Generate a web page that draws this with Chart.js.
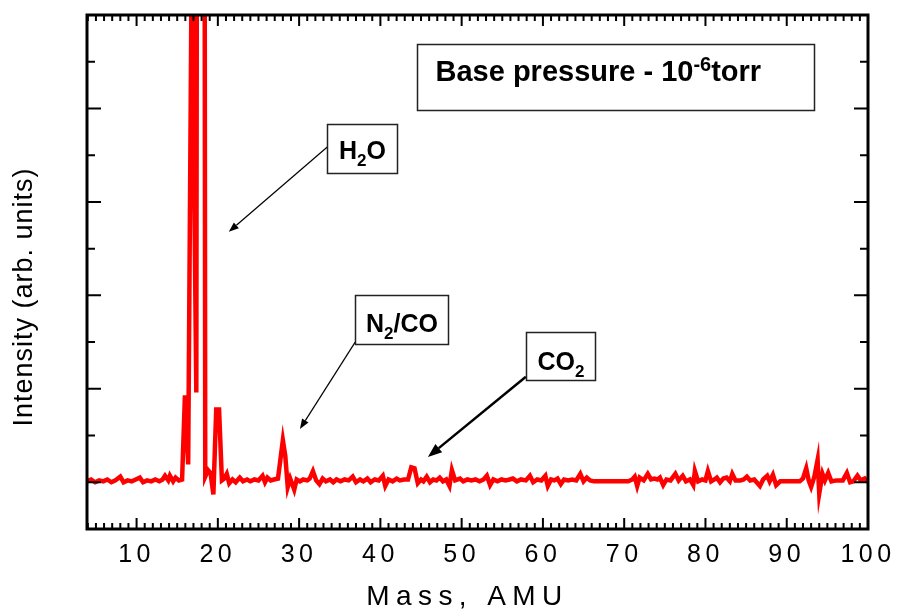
<!DOCTYPE html>
<html>
<head>
<meta charset="utf-8">
<title>Residual gas spectrum</title>
<script src="https://cdn.jsdelivr.net/npm/chart.js@4.4.1/dist/chart.umd.min.js"></script>
<style>
  html, body { margin: 0; padding: 0; background: #fff; }
  #spectrum { display: block; }
</style>
</head>
<body>
<canvas id="spectrum" width="900" height="613"></canvas>
<script>
//----------------------------Spectrum data (mass in AMU, intensity in arb. units)
var massAmu = [
  3.9, 4.4, 4.9, 5.4, 5.9, 6.4, 6.9, 7.4, 8.0, 8.4, 8.9, 9.4, 9.9, 10.4, 10.8, 11.3, 11.8, 12.3, 12.8, 13.2,
  13.5, 13.9, 14.1, 14.5, 14.8, 15.2, 15.6, 15.95, 16.35, 16.8, 17.35, 17.45, 18.35, 18.45, 18.8, 19.1, 19.45, 19.8, 20.15, 20.5,
  20.8, 21.1, 21.4, 21.8, 22.2, 22.7, 23.1, 23.6, 24.0, 24.5, 25.0, 25.5, 25.8, 26.1, 26.5, 26.9, 27.4, 28.0, 28.3, 28.6,
  28.9, 29.4, 29.7, 30.1, 30.5, 31.0, 31.3, 31.7, 32.1, 32.5, 32.9, 33.3, 33.8, 34.2, 34.6, 35.1, 35.6, 36.1, 36.6, 37.0,
  37.5, 37.9, 38.4, 38.8, 39.3, 39.8, 40.3, 40.6, 41.0, 41.5, 42.0, 42.4, 42.9, 43.4, 43.8, 44.2, 44.6, 45.0, 45.3, 45.7,
  46.1, 46.5, 46.9, 47.3, 47.7, 48.1, 48.5, 48.8, 49.2, 49.8, 50.2, 50.7, 51.2, 51.7, 52.2, 52.7, 53.1, 53.5, 53.9, 54.4,
  54.9, 55.4, 55.9, 56.3, 56.8, 57.3, 57.9, 58.4, 58.8, 59.3, 59.8, 60.3, 60.6, 61.0, 61.4, 61.8, 62.2, 62.6, 63.1, 63.6,
  64.1, 64.6, 65.0, 65.4, 65.8, 66.3, 66.7, 67.5, 68.5, 69.5, 70.5, 71.0, 71.3, 71.6, 71.9, 72.4, 72.9, 73.3, 73.7, 74.1,
  74.4, 74.8, 75.2, 75.7, 76.3, 76.7, 77.2, 77.6, 78.1, 78.5, 78.7, 79.1, 79.6, 80.0, 80.3, 80.7, 81.1, 81.4, 81.8, 82.2,
  82.6, 83.0, 83.3, 83.7, 84.3, 84.7, 85.1, 85.5, 86.0, 86.7, 87.1, 87.6, 87.9, 88.3, 88.7, 89.2, 90.0, 91.0, 91.6, 92.0,
  92.4, 92.7, 93.0, 93.4, 93.8, 94.0, 94.4, 94.7, 95.1, 95.5, 96.1, 96.9, 97.4, 97.8, 98.2, 98.7, 99.1, 99.6, 100.0
];
var intensity = [
  0.01, 0.03, 0.00, 0.02, 0.01, 0.03, 0.00, 0.02, 0.06, 0.00, 0.02, 0.01, 0.03, 0.05, 0.00, 0.02, 0.01, 0.03, 0.01, 0.03,
  0.07, 0.02, 0.07, 0.01, 0.05, 0.02, 0.03, 0.93, 0.19, 5.8, 0.96, 8.0, 8.0, 0.06, 0.13, 0.10, -0.13, 0.78, 0.78, 0.02,
  0.04, 0.09, -0.01, 0.03, 0.00, 0.05, 0.01, 0.03, 0.01, 0.03, 0.02, 0.07, 0.00, 0.05, 0.02, 0.03, 0.04, 0.45, 0.28, -0.05,
  0.04, -0.08, 0.03, 0.01, 0.03, 0.02, 0.04, 0.12, 0.02, -0.02, 0.04, 0.01, 0.03, 0.00, 0.03, 0.01, 0.03, 0.02, 0.06, 0.00,
  0.03, 0.01, 0.04, 0.00, 0.03, 0.02, 0.07, -0.04, 0.03, 0.01, 0.04, 0.02, 0.03, 0.03, 0.16, 0.15, -0.01, 0.03, 0.01, 0.06,
  0.00, 0.03, 0.02, 0.05, 0.01, 0.03, -0.04, 0.13, 0.02, 0.04, 0.01, 0.03, 0.02, 0.03, 0.01, 0.03, 0.07, -0.03, 0.03, 0.01,
  0.03, 0.02, 0.03, 0.04, 0.01, 0.03, 0.02, 0.07, 0.00, 0.03, 0.02, 0.07, -0.04, 0.03, 0.02, 0.04, -0.02, 0.03, 0.02, 0.03,
  0.02, 0.09, 0.01, 0.05, 0.02, 0.01, 0.01, 0.01, 0.01, 0.01, 0.01, 0.03, 0.06, -0.04, 0.05, 0.02, 0.09, 0.03, 0.04, 0.03,
  0.05, -0.03, 0.03, 0.02, 0.09, 0.02, 0.07, 0.01, 0.03, -0.03, 0.12, 0.01, 0.03, 0.02, 0.12, 0.01, 0.03, 0.05, 0.00, 0.04,
  0.05, 0.01, 0.09, 0.02, 0.02, 0.03, 0.06, 0.02, 0.03, -0.04, 0.03, 0.07, 0.01, 0.08, -0.03, 0.01, 0.01, 0.01, 0.01, 0.04,
  0.15, 0.02, -0.05, 0.06, 0.24, -0.12, 0.09, 0.02, 0.10, 0.01, 0.02, 0.02, 0.10, 0.00, 0.01, 0.07, 0.02, 0.04, 0.00
];
var xTickValues = [10, 20, 30, 40, 50, 60, 70, 80, 90, 100];
var xRange = [3.9, 100];
var yRange = [-0.5, 5];

//----------------------------Peak labels (anchored in data units)
var noteBoxes = [
  { text: [{ s: 'Base pressure - 10' }, { s: '-6', sup: true }, { s: 'torr' }],
    at: [44.5, 4.69], w: 397, h: 66, size: 29, base: 36, padLeft: 18 },
  { text: [{ s: 'H' }, { s: '2', sub: true }, { s: 'O' }],
    at: [33.4, 3.83], w: 70, h: 49, size: 25, base: 34,
    arrow: { from: [33.5, 3.59], to: [21.35, 2.68], width: 1.2, head: 10 } },
  { text: [{ s: 'N' }, { s: '2', sub: true }, { s: '/CO' }],
    at: [36.9, 2.0], w: 93, h: 49, size: 25, base: 36,
    arrow: { from: [36.9, 1.5], to: [30.1, 0.57], width: 1.2, head: 10 } },
  { text: [{ s: 'CO' }, { s: '2', sub: true }],
    at: [57.9, 1.61], w: 69, h: 48, size: 25, base: 37,
    arrow: { from: [57.9, 1.13], to: [45.85, 0.27], width: 2.5, head: 14 } }
];

var points = massAmu.map(function (m, i) { return { x: m, y: intensity[i] }; });

function partFont(part, size) {
  var s = (part.sub || part.sup) ? Math.round(size * 0.68) : size;
  return 'bold ' + s + 'px "Liberation Sans", Arial, sans-serif';
}

function drawRichText(ctx, parts, x, y, size) {
  parts.forEach(function (p) {
    ctx.font = partFont(p, size);
    var dy = p.sub ? 7 : (p.sup ? -10 : 0);
    ctx.fillText(p.s, x, y + dy);
    x += ctx.measureText(p.s).width;
  });
}

function richWidth(ctx, parts, size) {
  var w = 0;
  parts.forEach(function (p) {
    ctx.font = partFont(p, size);
    w += ctx.measureText(p.s).width;
  });
  return w;
}

function drawArrow(ctx, x1, y1, x2, y2, width, head) {
  var ang = Math.atan2(y2 - y1, x2 - x1);
  var bx = x2 - Math.cos(ang) * head, by = y2 - Math.sin(ang) * head;
  ctx.lineWidth = width;
  ctx.beginPath();
  ctx.moveTo(x1, y1);
  ctx.lineTo(bx, by);
  ctx.stroke();
  var hw = head * 0.38;
  ctx.beginPath();
  ctx.moveTo(x2, y2);
  ctx.lineTo(bx + Math.sin(ang) * hw, by - Math.cos(ang) * hw);
  ctx.lineTo(bx - Math.sin(ang) * hw, by + Math.cos(ang) * hw);
  ctx.closePath();
  ctx.fill();
}

// inward ticks on all four sides plus the frame
function drawFrame(chart) {
  var ctx = chart.ctx, a = chart.chartArea;
  var xs = chart.scales.x, ys = chart.scales.y;
  ctx.save();
  ctx.strokeStyle = '#000';
  ctx.lineWidth = 2;
  ctx.beginPath();
  for (var m = Math.ceil(xs.min); m <= xs.max; m++) {
    var px = xs.getPixelForValue(m);
    var major = m % 10 === 0;
    ctx.moveTo(px, a.bottom); ctx.lineTo(px, a.bottom - (major ? 11 : 6));
    ctx.moveTo(px, a.top); ctx.lineTo(px, a.top + (major ? 11 : 6));
  }
  for (var k = 0; ys.min + k * 0.5 <= ys.max + 1e-9; k++) {
    var v = ys.min + k * 0.5;
    var py = ys.getPixelForValue(v);
    var len = Math.abs(v % 1) < 1e-9 ? 14 : 8;
    ctx.moveTo(a.left, py); ctx.lineTo(a.left + len, py);
    ctx.moveTo(a.right, py); ctx.lineTo(a.right - len, py);
  }
  ctx.stroke();
  ctx.lineWidth = 3;
  ctx.strokeRect(a.left, a.top, a.right - a.left, a.bottom - a.top);
  ctx.restore();
}

function drawTitles(chart) {
  var ctx = chart.ctx, a = chart.chartArea;
  ctx.save();
  ctx.fillStyle = '#000';
  ctx.textAlign = 'center';
  ctx.textBaseline = 'middle';
  ctx.font = '28px "Liberation Sans", Arial, sans-serif';
  ctx.letterSpacing = '6.4px';
  ctx.fillText('Mass, AMU', (a.left + a.right) / 2 - 10, 597);
  ctx.translate(25, (a.top + a.bottom) / 2 + 25);
  ctx.rotate(-Math.PI / 2);
  ctx.font = '27px "Liberation Sans", Arial, sans-serif';
  ctx.letterSpacing = '1px';
  ctx.fillText('Intensity (arb. units)', 0, 0);
  ctx.restore();
}

function drawNotes(chart) {
  var ctx = chart.ctx, xs = chart.scales.x, ys = chart.scales.y;
  ctx.save();
  ctx.letterSpacing = '0px';
  ctx.fillStyle = '#000';
  ctx.strokeStyle = '#000';
  noteBoxes.forEach(function (n) {
    if (n.arrow) {
      drawArrow(ctx,
        xs.getPixelForValue(n.arrow.from[0]), ys.getPixelForValue(n.arrow.from[1]),
        xs.getPixelForValue(n.arrow.to[0]), ys.getPixelForValue(n.arrow.to[1]),
        n.arrow.width, n.arrow.head);
    }
    var bx = Math.round(xs.getPixelForValue(n.at[0])) + 0.5;
    var by = Math.round(ys.getPixelForValue(n.at[1])) + 0.5;
    ctx.fillStyle = '#fff';
    ctx.fillRect(bx, by, n.w, n.h);
    ctx.lineWidth = 1.5;
    ctx.strokeStyle = '#222';
    ctx.strokeRect(bx, by, n.w, n.h);
    ctx.fillStyle = '#000';
    ctx.strokeStyle = '#000';
    ctx.textBaseline = 'alphabetic';
    ctx.textAlign = 'left';
    var tw = richWidth(ctx, n.text, n.size);
    var tx = n.padLeft ? bx + n.padLeft : bx + (n.w - tw) / 2;
    drawRichText(ctx, n.text, tx, by + n.base, n.size);
  });
  ctx.restore();
}

var spectrumDecor = {
  id: 'spectrumDecor',
  beforeDraw: function (chart) { chart.ctx.letterSpacing = '4.5px'; },
  beforeDatasetsDraw: function (chart) { chart.ctx.letterSpacing = '0px'; },
  afterDraw: function (chart) {
    drawFrame(chart);
    drawTitles(chart);
    drawNotes(chart);
  }
};

//------------------------------------------Chart
var chart = new Chart(document.getElementById('spectrum'), {
  type: 'line',
  data: {
    datasets: [{
      data: points,
      borderColor: '#ff0000',
      borderWidth: 4.5,
      pointRadius: 0,
      tension: 0,
      fill: false,
      clip: 0
    }]
  },
  options: {
    responsive: false,
    animation: false,
    events: [],
    layout: { padding: { left: 87, top: 15, right: 32, bottom: 34 } },
    plugins: { legend: { display: false }, tooltip: { enabled: false } },
    scales: {
      x: {
        type: 'linear',
        min: xRange[0],
        max: xRange[1],
        grid: { display: false, drawTicks: false },
        border: { display: false },
        afterBuildTicks: function (scale) {
          scale.ticks = xTickValues.map(function (v) { return { value: v }; });
        },
        afterFit: function (scale) {
          scale.height = 50;
          scale.paddingLeft = 0;
          scale.paddingRight = 0;
        },
        ticks: {
          color: '#000',
          font: { family: '"Liberation Sans", Arial, sans-serif', size: 25 },
          padding: 11,
          maxRotation: 0,
          autoSkip: false
        }
      },
      y: {
        display: false,
        min: yRange[0],
        max: yRange[1]
      }
    }
  },
  plugins: [spectrumDecor]
});
</script>
</body>
</html>
